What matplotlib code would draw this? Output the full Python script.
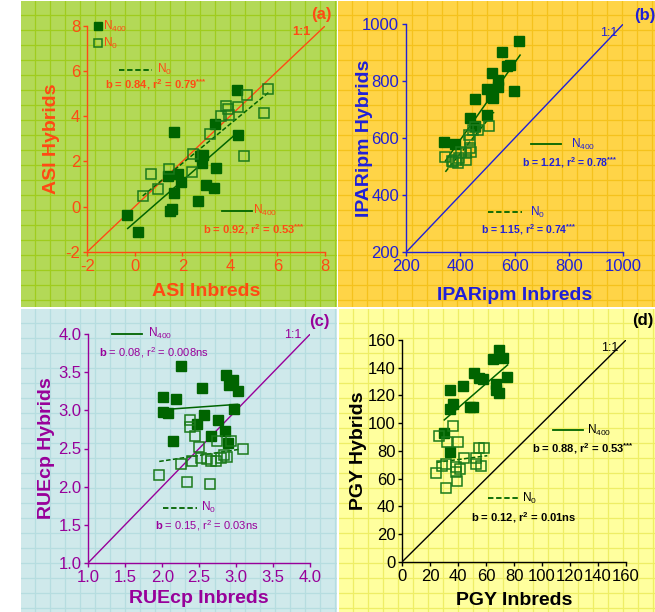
"""
Four panel hybrid vs inbred comparison (ASI, IPARipm, RUEcp, PGY)
"""
import matplotlib
matplotlib.use('Agg')
import matplotlib.pyplot as plt
from matplotlib.patches import Rectangle

plt.rcParams['font.family'] = 'Liberation Sans'
plt.rcParams['mathtext.fontset'] = 'custom'
plt.rcParams['mathtext.rm'] = 'Liberation Sans'
plt.rcParams['mathtext.bf'] = 'Liberation Sans:bold'
plt.rcParams['mathtext.it'] = 'Liberation Sans:italic'
plt.rcParams['mathtext.default'] = 'regular'

# ---------------- data ----------------
# (a) ASI
asi_n400_x = [-0.34, 0.15, 1.64, 1.38, 1.83, 1.94, 1.64, 1.48, 1.58, 2.64, 2.74, 2.88, 2.81,
              2.99, 3.34, 3.42, 3.37, 4.33, 4.31]
asi_n400_y = [-0.37, -1.14, 3.29, 1.36, 1.45, 1.11, 0.59, -0.18, -0.12, 0.25, 2.26, 2.30, 1.95,
              0.96, 0.81, 1.70, 3.68, 3.15, 5.17]
asi_n0_x = [0.33, 0.67, 0.99, 1.45, 2.42, 2.43, 3.16, 3.61, 3.84, 3.91, 3.98, 4.33, 4.61, 4.72,
            5.42, 5.62]
asi_n0_y = [0.47, 1.45, 0.77, 1.65, 1.54, 2.33, 3.21, 4.02, 4.46, 4.31, 4.06, 4.40, 2.26, 4.93,
            4.15, 5.20]
asi_fit_n400 = ([-0.30, 4.21], [-0.97, 3.18])
asi_fit_n0 = ([0.33, 5.62], [0.47, 5.05])

# (b) IPARipm
ipar_n400_x = [341, 382, 436, 453, 455, 499, 499, 517, 512, 520, 517, 540, 540, 555, 570, 584,
               599, 616]
ipar_n400_y = [587, 579, 669, 642, 737, 681, 771, 768, 745, 740, 830, 803, 778, 902, 853, 856,
               766, 941]
ipar_n0_x = [345, 368, 372, 384, 390, 395, 402, 420, 420, 431, 434, 437, 440, 448, 453, 466, 507]
ipar_n0_y = [533, 520, 515, 525, 512, 530, 552, 547, 523, 611, 564, 593, 551, 628, 640, 627, 642]
ipar_fit_n400 = ([345, 620], [520, 891])
ipar_fit_n0 = ([345, 524], [482, 691])

# (c) RUEcp
rue_n400_x = [2.01, 2.19, 2.01, 2.08, 2.14, 2.26, 2.54, 2.47, 2.56, 2.66, 2.75, 2.86, 2.91,
              2.96, 3.02, 2.97, 2.85, 2.89]
rue_n400_y = [3.17, 3.15, 2.98, 2.96, 2.60, 3.58, 3.29, 2.82, 2.94, 2.67, 2.87, 3.47, 3.34,
              3.40, 3.25, 3.02, 2.73, 2.57]
rue_n0_x = [1.96, 2.25, 2.33, 2.38, 2.37, 2.44, 2.50, 2.41, 2.52, 2.60, 2.65, 2.66, 2.73, 2.74,
            2.79, 2.83, 2.88, 2.93, 3.10]
rue_n0_y = [2.15, 2.30, 2.06, 2.88, 2.78, 2.66, 2.52, 2.34, 2.38, 2.36, 2.04, 2.33, 2.33, 2.60,
            2.38, 2.41, 2.39, 2.60, 2.49]
rue_fit_n400 = ([2.00, 3.02], [3.01, 3.08])
rue_fit_n0 = ([1.96, 3.05], [2.33, 2.49])

# (d) PGY
pgy_n400_x = [29.8, 34.1, 34.1, 34.1, 36.5, 43.2, 48.4, 50.8, 51.5, 55.1, 57.5, 64.6, 66.8,
              66.8, 69.4, 69.4, 71.8, 75.1]
pgy_n400_y = [92.6, 79.4, 123.9, 110.2, 113.6, 126.8, 111.9, 111.9, 135.9, 132.8, 131.6, 146.1,
              128.0, 123.9, 121.5, 152.8, 147.3, 133.5]
pgy_n0_x = [24.1, 26.0, 28.4, 31.2, 30.9, 31.7, 36.5, 38.4, 38.4, 38.9, 40.1, 41.2, 44.3, 52.5,
            52.5, 55.1, 56.3, 58.7]
pgy_n0_y = [63.8, 91.0, 69.3, 70.3, 52.9, 86.6, 98.2, 65.0, 68.6, 58.5, 86.6, 66.7, 74.6, 74.6,
            70.3, 82.3, 69.3, 81.8]
pgy_fit_n400 = ([30.0, 75.3], [102.3, 142.0])
pgy_fit_n0 = ([24.6, 60.8], [71.7, 76.5])

# stats text
asi_stats = ('0.84', '0.79', '***', '0.92', '0.53', '***')
ipar_stats = ('1.15', '0.74', '***', '1.21', '0.78', '***')
rue_stats = ('0.15', '0.03', 'ns', '0.08', '0.008', 'ns')
pgy_stats = ('0.12', '0.01', 'ns', '0.88', '0.53', '***')

# ---------------- layout helpers ----------------
W, H = 655, 612
fig = plt.figure(figsize=(W / 100, H / 100), dpi=100)
DKGREEN = '#006400'
OPGREEN = '#1a7a1a'


def px_box(x0, y0, x1, y1):
    # pixel box with top-left origin -> figure fraction rect
    return [x0 / W, 1 - y1 / H, (x1 - x0) / W, (y1 - y0) / H]


def background(box, face, line):
    bg = fig.add_axes(px_box(*box))
    bg.set_axis_off()
    w = box[2] - box[0]
    h = box[3] - box[1]
    bg.set_xlim(0, w)
    bg.set_ylim(h, 0)
    bg.add_patch(Rectangle((0, 0), w, h, facecolor=face, edgecolor='none'))
    for gx in range(14, int(w), 15):
        bg.axvline(gx, color=line, lw=0.9)
    for gy in range(14, int(h), 15):
        bg.axhline(gy, color=line, lw=0.9)


def stat_text(b, r2, sig, bold):
    if sig == '***':
        tail = r'$^{\mathbf{{*}{*}{*}}}$' if bold else r'$^{{*}{*}{*}}$'
    else:
        tail = sig
    if bold:
        return r'$\mathbf{b}$ = ' + b + r', r$^{\mathbf{2}}$ = ' + r2 + tail
    return r'$\mathbf{b}$ = ' + b + r', r$^{2}$ = ' + r2 + tail


def panel(box, lim, ticks, fmt, color, xlabel, ylabel, lab_xy, n400, n0, fit400, fit0,
          stats, leg0, leg400, one_xy, letter, letter_xy, bold, stat_fs, one_bold):
    ax = fig.add_axes(px_box(*box))
    ax.set_facecolor('none')
    ax.set_xlim(*lim)
    ax.set_ylim(*lim)
    for s in ['top', 'right']:
        ax.spines[s].set_visible(False)
    for s in ['left', 'bottom']:
        ax.spines[s].set_color(color)
        ax.spines[s].set_linewidth(1.0)
    ax.set_xticks(ticks)
    ax.set_yticks(ticks)
    ax.set_xticklabels([fmt.format(t) for t in ticks])
    ax.set_yticklabels([fmt.format(t) for t in ticks])
    ax.tick_params(colors=color, labelsize=12, length=3, width=1, pad=2)

    # 1:1 line
    ax.plot(lim, lim, color=color, lw=1.0, zorder=2)

    # regression lines
    ax.plot(fit400[0], fit400[1], color=DKGREEN, lw=1.1, zorder=3)
    ax.plot(fit0[0], fit0[1], color=DKGREEN, lw=1.1, ls=(0, (3, 1.5)), zorder=3)

    # points
    ax.plot(n400[0], n400[1], 's', ms=6.8, color=DKGREEN, mec=DKGREEN, zorder=4, clip_on=False)
    ax.plot(n0[0], n0[1], 's', ms=6.5, mfc='none', mec=OPGREEN, mew=1.1, zorder=4, clip_on=False)

    ax.set_xlabel(xlabel, fontsize=14, fontweight='bold', color=color)
    ax.set_ylabel(ylabel, fontsize=14, fontweight='bold', color=color)
    ax.xaxis.set_label_coords(0.5, lab_xy[1])
    ax.yaxis.set_label_coords(lab_xy[0], 0.5)

    fw = 'bold' if bold else 'normal'
    # N0 regression legend
    (lx0, lx1, ly, tx, sx, sy) = leg0
    ax.plot([lx0, lx1], [ly, ly], color=DKGREEN, lw=1.3, ls=(0, (3, 1.5)), clip_on=False)
    ax.text(tx, ly, r'N$_0$', color=color, fontsize=8.5, va='center', ha='left')
    ax.text(sx, sy, stat_text(stats[0], stats[1], stats[2], bold), color=color,
            fontsize=stat_fs, fontweight=fw, ha='center', va='center')
    # N400 regression legend
    (lx0, lx1, ly, tx, sx, sy) = leg400
    ax.plot([lx0, lx1], [ly, ly], color=DKGREEN, lw=1.3, clip_on=False)
    ax.text(tx, ly, r'N$_{400}$', color=color, fontsize=8.5, va='center', ha='left')
    ax.text(sx, sy, stat_text(stats[3], stats[4], stats[5], bold), color=color,
            fontsize=stat_fs, fontweight=fw, ha='center', va='center')

    ax.text(one_xy[0], one_xy[1], '1:1', color=color, fontsize=9, ha='center', va='center',
            fontweight='bold' if one_bold else 'normal')
    ax.text(letter_xy[0], letter_xy[1], letter, color=color, fontsize=12, fontweight='bold',
            ha='center', va='center', clip_on=False)
    return ax


# ---------------- backgrounds ----------------
background((21, 1, 337, 307), '#b3d957', '#9fcc1e')
background((338, 1, 655, 307), '#ffd447', '#f5c21c')
background((21, 309, 337, 612), '#cfe9eb', '#b6dde0')
background((339, 309, 655, 612), '#ffff9e', '#eeee66')

# ---------------- panels ----------------
ax_a = panel((87.3, 26, 325, 251.7), (-2, 8), [-2, 0, 2, 4, 6, 8], '{:d}', '#ff4a14',
             'ASI Inbreds', 'ASI Hybrids', (-0.115, -0.137),
             (asi_n400_x, asi_n400_y), (asi_n0_x, asi_n0_y), asi_fit_n400, asi_fit_n0,
             asi_stats,
             (-0.65, 0.71, 6.06, 0.95, 0.87, 5.39),
             (3.65, 4.91, -0.18, 4.96, 4.99, -1.03),
             (7.0, 7.75), '(a)', (7.86, 8.5), True, 8, True)
# N400 / N0 symbol key in (a)
ax_a.plot([-1.56], [8.0], 's', ms=5.5, color=DKGREEN, clip_on=False)
ax_a.plot([-1.56], [7.24], 's', ms=5.5, mfc='none', mec=OPGREEN, mew=1.1, clip_on=False)
ax_a.text(-1.36, 8.0, r'N$_{400}$', color='#ff4a14', fontsize=8.5, va='center')
ax_a.text(-1.36, 7.24, r'N$_0$', color='#ff4a14', fontsize=8.5, va='center')

panel((406, 24, 623.3, 252.3), (200, 1000), [200, 400, 600, 800, 1000], '{:d}', '#2020d8',
      'IPARipm Inbreds', 'IPARipm Hybrids', (-0.150, -0.152),
      (ipar_n400_x, ipar_n400_y), (ipar_n0_x, ipar_n0_y), ipar_fit_n400, ipar_fit_n0,
      ipar_stats,
      (503, 626, 340, 656, 653, 281),
      (660, 770, 578, 806, 801, 514),
      (945, 969), '(b)', (1080, 1031), True, 7.5, False)

panel((88.3, 334.3, 310, 562.7), (1.0, 4.0), [1.0, 1.5, 2.0, 2.5, 3.0, 3.5, 4.0], '{:.1f}',
      '#98009a', 'RUEcp Inbreds', 'RUEcp Hybrids', (-0.150, -0.12),
      (rue_n400_x, rue_n400_y), (rue_n0_x, rue_n0_y), rue_fit_n400, rue_fit_n0,
      rue_stats,
      (2.01, 2.47, 1.72, 2.53, 2.60, 1.49),
      (1.32, 1.72, 4.01, 1.81, 1.88, 3.76),
      (3.77, 3.99), '(c)', (4.13, 4.17), False, 8, False)

panel((402.3, 340, 626, 561.7), (0, 160), [0, 20, 40, 60, 80, 100, 120, 140, 160], '{:d}',
      'black', 'PGY Inbreds', 'PGY Hybrids', (-0.16, -0.135),
      (pgy_n400_x, pgy_n400_y), (pgy_n0_x, pgy_n0_y), pgy_fit_n400, pgy_fit_n0,
      pgy_stats,
      (61.5, 83, 45.7, 85.4, 86.6, 32),
      (108, 129.5, 95, 132, 129.5, 81.8),
      (148.5, 154), '(d)', (172, 174), True, 8, False)

fig.savefig('out.png', dpi=100)
